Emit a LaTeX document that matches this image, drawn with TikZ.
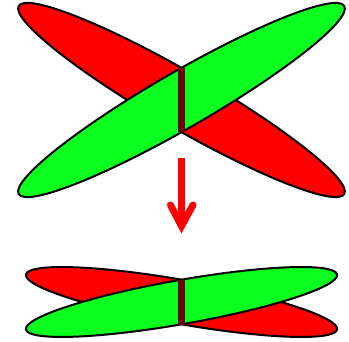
\documentclass[tikz,border=0pt]{standalone}
\usetikzlibrary{calc}
\begin{document}
\begin{tikzpicture}[x=1pt,y=1pt,
  outl/.style={draw=black,line width=2pt},
  redarm/.style={outl,fill=chred},
  greenarm/.style={outl,fill=chgreen},
  centro/.style={draw=chbar,line width=7pt},
  bigarrow/.style={draw=red,line width=7pt}]
\definecolor{chred}{RGB}{255,0,0}
\definecolor{chgreen}{RGB}{10,255,30}
\definecolor{chbar}{RGB}{112,0,0}
\useasboundingbox (0,0) rectangle (349,341);
% top chromosome
\coordinate (tc) at (181.5,241);
\path[redarm,rotate around={-30:(tc)}] (tc) ellipse [x radius=188pt, y radius=28pt];
\path[greenarm,rotate around={30:(tc)}] (tc) ellipse [x radius=188pt, y radius=28pt];
\coordinate (ttop) at (181.5,273);
\coordinate (tbot) at (181.5,209);
\draw[centro] (ttop) -- (tbot);
% arrow
\coordinate (as) at (181.5,183);
\coordinate (av) at (181.5,115);
\coordinate (awl) at (170.5,136);
\coordinate (awr) at (193,136);
\draw[bigarrow] (as) -- ($(av)+(0,6)$);
\draw[bigarrow,line cap=round,line join=miter] (awl) -- (av) -- (awr);
% bottom chromosome
\coordinate (bc) at (181.5,39);
\path[redarm,rotate around={-10:(bc)}] (bc) ellipse [x radius=158pt, y radius=22pt];
\path[greenarm,rotate around={10:(bc)}] (bc) ellipse [x radius=158pt, y radius=22pt];
\coordinate (btop) at (181.5,61.5);
\coordinate (bbot) at (181.5,16.5);
\draw[centro] (btop) -- (bbot);
\end{tikzpicture}
\end{document}
